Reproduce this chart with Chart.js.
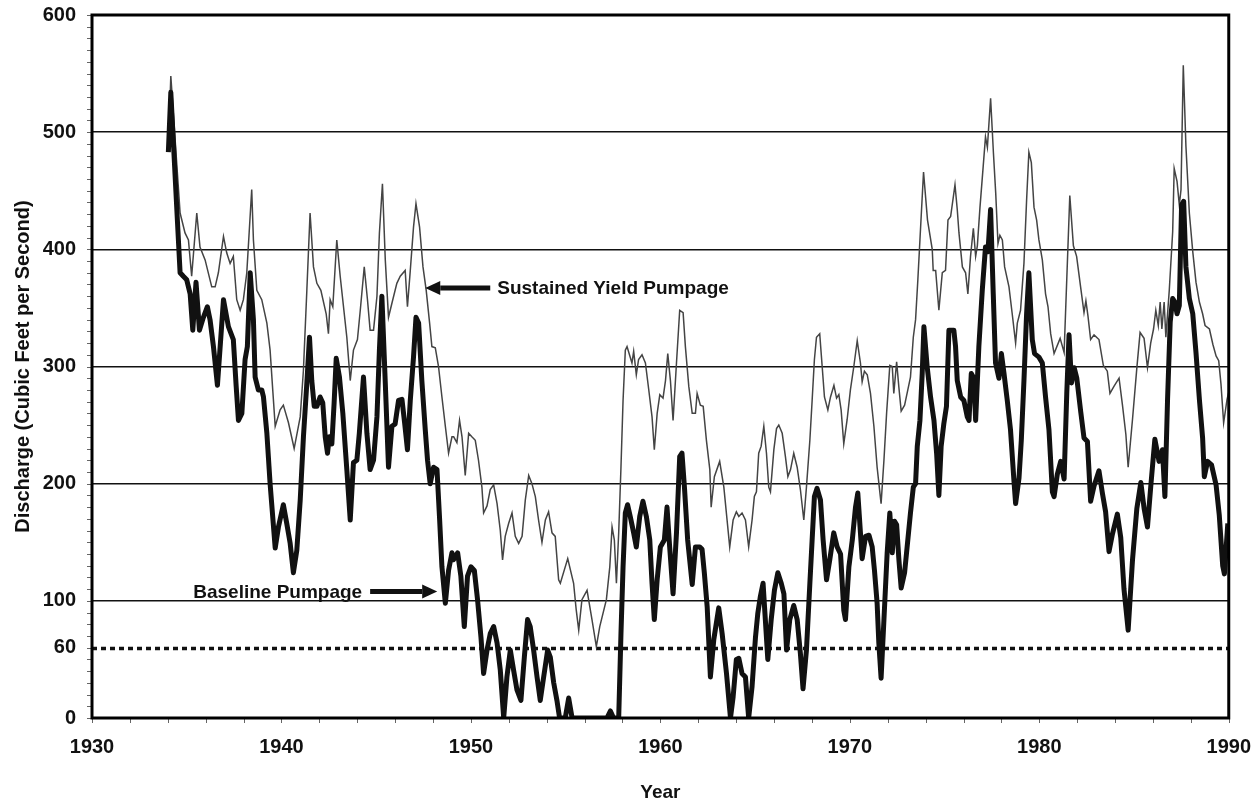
<!DOCTYPE html>
<html>
<head>
<meta charset="utf-8">
<script src="https://cdn.jsdelivr.net/npm/chart.js@4.4.1/dist/chart.umd.min.js"></script>
<style>
  html, body { margin: 0; padding: 0; background: #fff; }
  #wrap { width: 1260px; height: 800px; position: relative; }
</style>
</head>
<body>
<div id="wrap"><canvas id="discharge"></canvas></div>
<script>
// --- DATA ---
const sustainedYears = [
  1934.03,1934.16,1934.65,1934.91,1935.09,1935.26,1935.53,1935.70,1935.97,1936.32,
  1936.50,1936.67,1936.94,1937.11,1937.29,1937.46,1937.64,1937.82,1937.99,1938.17,
  1938.43,1938.52,1938.70,1938.96,1939.23,1939.40,1939.54,1939.67,1939.93,1940.10,
  1940.37,1940.67,1940.99,1941.16,1941.34,1941.51,1941.69,1941.87,1942.08,1942.36,
  1942.48,1942.57,1942.71,1942.92,1943.10,1943.45,1943.63,1943.80,1944.01,1944.16,
  1944.37,1944.54,1944.68,1944.86,1945.04,1945.17,1945.33,1945.48,1945.65,1945.83,
  1946.09,1946.27,1946.53,1946.65,1946.80,1946.97,1947.10,1947.29,1947.47,1947.64,
  1947.82,1947.94,1948.12,1948.29,1948.47,1948.65,1948.82,1949.00,1949.09,1949.26,
  1949.40,1949.53,1949.70,1949.88,1950.05,1950.23,1950.40,1950.58,1950.67,1950.85,
  1951.02,1951.20,1951.38,1951.55,1951.67,1951.81,1951.99,1952.17,1952.34,1952.52,
  1952.70,1952.87,1953.05,1953.22,1953.40,1953.57,1953.75,1953.93,1954.10,1954.28,
  1954.45,1954.63,1954.72,1955.11,1955.42,1955.56,1955.69,1955.86,1956.13,1956.39,
  1956.62,1956.80,1957.15,1957.33,1957.45,1957.57,1957.68,1957.80,1957.92,1958.03,
  1958.15,1958.24,1958.50,1958.59,1958.73,1958.85,1959.03,1959.21,1959.38,1959.56,
  1959.68,1959.83,1959.97,1960.14,1960.27,1960.39,1960.53,1960.67,1960.85,1961.02,
  1961.20,1961.32,1961.50,1961.68,1961.85,1961.94,1962.11,1962.26,1962.43,1962.61,
  1962.68,1962.85,1963.13,1963.35,1963.52,1963.66,1963.84,1964.01,1964.14,1964.31,
  1964.49,1964.66,1964.84,1964.96,1965.07,1965.19,1965.32,1965.46,1965.60,1965.72,
  1965.81,1965.99,1966.13,1966.25,1966.43,1966.60,1966.73,1966.87,1967.04,1967.22,
  1967.39,1967.57,1967.71,1967.89,1968.01,1968.13,1968.24,1968.41,1968.54,1968.66,
  1968.84,1968.98,1969.16,1969.30,1969.42,1969.54,1969.68,1969.86,1970.03,1970.21,
  1970.39,1970.56,1970.65,1970.77,1970.92,1971.09,1971.27,1971.44,1971.65,1971.80,
  1971.94,1972.11,1972.24,1972.32,1972.47,1972.59,1972.71,1972.89,1973.06,1973.20,
  1973.35,1973.47,1973.59,1973.70,1973.89,1974.10,1974.35,1974.40,1974.53,1974.70,
  1974.88,1975.05,1975.18,1975.32,1975.55,1975.67,1975.76,1975.94,1976.11,1976.23,
  1976.37,1976.52,1976.64,1976.73,1976.87,1977.04,1977.16,1977.26,1977.43,1977.58,
  1977.70,1977.82,1977.92,1978.05,1978.17,1978.40,1978.57,1978.75,1978.84,1979.01,
  1979.19,1979.33,1979.45,1979.58,1979.72,1979.86,1979.98,1980.16,1980.33,1980.46,
  1980.60,1980.78,1981.10,1981.31,1981.61,1981.80,1981.97,1982.18,1982.36,1982.46,
  1982.57,1982.71,1982.89,1983.15,1983.38,1983.59,1983.73,1983.94,1984.21,1984.39,
  1984.57,1984.69,1984.92,1985.15,1985.32,1985.53,1985.71,1985.88,1986.03,1986.15,
  1986.28,1986.38,1986.47,1986.59,1986.68,1986.86,1987.04,1987.12,1987.27,1987.39,
  1987.48,1987.60,1987.74,1987.92,1988.10,1988.27,1988.45,1988.62,1988.75,1988.98,
  1989.16,1989.33,1989.47,1989.59,1989.73,1989.91,1990.00
];
const sustainedCfs = [
  483,548,431,414,408,377,431,402,391,368,
  368,380,411,397,388,394,357,348,357,380,
  451,408,365,357,337,314,280,249,263,267,
  252,230,257,297,365,431,385,371,365,345,
  328,357,351,408,377,325,288,314,323,348,
  385,357,331,331,360,414,456,391,342,354,
  371,377,382,351,382,419,439,419,385,365,
  337,317,316,300,274,249,226,240,240,235,
  254,240,207,243,240,237,220,197,175,181,
  195,199,183,160,135,155,166,175,155,149,
  155,186,207,200,189,169,150,169,176,158,
  155,118,115,136,115,92,75,101,109,84,
  61,78,101,129,163,152,115,158,214,271,
  314,317,303,313,293,306,310,303,281,257,
  229,260,276,273,288,311,288,254,303,348,
  346,317,283,260,260,277,267,266,237,212,
  180,206,219,197,169,146,169,176,172,175,
  169,146,169,189,193,226,232,249,226,197,
  193,229,247,250,243,223,206,212,226,214,
  195,169,197,237,271,306,325,328,300,274,
  263,274,284,273,276,263,234,255,280,300,
  322,303,287,296,293,277,249,214,183,220,
  260,301,300,277,304,282,262,267,280,291,
  325,340,374,408,466,425,400,382,382,348,
  380,382,425,428,455,434,414,385,380,362,
  394,418,394,403,436,471,496,487,529,482,
  448,405,412,408,385,368,345,320,337,348,
  388,442,483,474,436,425,408,391,362,351,
  328,311,324,312,446,403,394,368,346,356,
  343,323,327,323,301,296,277,283,290,267,
  242,214,255,299,329,324,299,320,332,348,
  335,355,332,355,325,365,415,469,458,438,
  451,557,488,431,398,372,355,345,335,332,
  319,309,305,285,252,272,278
];

const baselineYears = [
  1934.03,1934.16,1934.65,1934.82,1935.00,1935.18,1935.32,1935.49,1935.67,1935.88,
  1936.09,1936.23,1936.41,1936.62,1936.94,1937.20,1937.46,1937.61,1937.73,1937.91,
  1938.08,1938.20,1938.35,1938.52,1938.61,1938.78,1938.96,1939.05,1939.23,1939.40,
  1939.67,1939.84,1940.10,1940.28,1940.46,1940.63,1940.81,1940.99,1941.16,1941.34,
  1941.48,1941.60,1941.73,1941.87,1942.04,1942.18,1942.31,1942.43,1942.53,1942.66,
  1942.78,1942.89,1943.06,1943.24,1943.45,1943.63,1943.80,1943.98,1944.11,1944.33,
  1944.51,1944.68,1944.86,1945.04,1945.17,1945.30,1945.48,1945.65,1945.83,1946.00,
  1946.18,1946.36,1946.50,1946.65,1946.80,1946.97,1947.10,1947.24,1947.41,1947.59,
  1947.71,1947.85,1948.03,1948.21,1948.34,1948.47,1948.65,1948.82,1949.00,1949.08,
  1949.30,1949.47,1949.65,1949.82,1950.00,1950.18,1950.35,1950.53,1950.67,1950.85,
  1951.02,1951.20,1951.38,1951.55,1951.73,1951.90,1952.08,1952.25,1952.43,1952.64,
  1952.82,1952.99,1953.13,1953.31,1953.49,1953.66,1953.84,1954.05,1954.19,1954.37,
  1954.54,1954.68,1954.98,1955.16,1955.34,1957.18,1957.36,1957.53,1957.80,1957.92,
  1958.03,1958.15,1958.27,1958.41,1958.59,1958.73,1958.91,1959.08,1959.26,1959.44,
  1959.56,1959.68,1959.83,1960.00,1960.21,1960.35,1960.49,1960.67,1960.85,1961.02,
  1961.14,1961.27,1961.44,1961.68,1961.85,1962.08,1962.20,1962.32,1962.47,1962.64,
  1962.82,1963.08,1963.26,1963.49,1963.70,1963.84,1964.01,1964.14,1964.31,1964.49,
  1964.66,1964.84,1965.02,1965.14,1965.28,1965.42,1965.54,1965.67,1965.85,1966.02,
  1966.20,1966.38,1966.52,1966.66,1966.83,1967.04,1967.22,1967.39,1967.53,1967.71,
  1967.89,1968.01,1968.13,1968.27,1968.45,1968.59,1968.77,1968.94,1969.15,1969.33,
  1969.51,1969.68,1969.77,1969.95,1970.13,1970.30,1970.42,1970.65,1970.83,1971.01,
  1971.18,1971.30,1971.44,1971.53,1971.65,1971.80,1971.97,1972.11,1972.24,1972.36,
  1972.47,1972.59,1972.71,1972.89,1973.06,1973.20,1973.35,1973.47,1973.56,1973.70,
  1973.82,1973.91,1974.08,1974.26,1974.44,1974.58,1974.70,1974.82,1974.96,1975.10,
  1975.23,1975.49,1975.58,1975.67,1975.85,1976.02,1976.20,1976.29,1976.41,1976.55,
  1976.64,1976.81,1976.99,1977.16,1977.29,1977.43,1977.57,1977.69,1977.87,1978.00,
  1978.13,1978.31,1978.48,1978.66,1978.75,1978.93,1979.05,1979.19,1979.33,1979.45,
  1979.63,1979.75,1979.98,1980.16,1980.33,1980.51,1980.69,1980.78,1980.95,1981.13,
  1981.31,1981.45,1981.57,1981.70,1981.84,1981.98,1982.19,1982.36,1982.54,1982.71,
  1982.89,1983.15,1983.33,1983.50,1983.68,1983.86,1984.12,1984.30,1984.47,1984.69,
  1984.92,1985.15,1985.36,1985.53,1985.71,1985.89,1986.10,1986.32,1986.50,1986.63,
  1986.77,1986.91,1987.04,1987.16,1987.27,1987.39,1987.51,1987.62,1987.74,1987.92,
  1988.10,1988.27,1988.45,1988.62,1988.71,1988.88,1989.09,1989.33,1989.50,1989.68,
  1989.77,1989.95
];
const baselineCfs = [
  483,534,380,377,374,362,331,372,331,342,
  351,340,317,284,357,334,323,283,254,260,
  306,317,380,340,291,280,280,274,243,200,
  145,163,182,166,149,124,143,186,240,286,
  325,288,266,266,274,269,240,226,240,234,
  269,307,291,260,212,169,218,220,243,291,
  243,212,220,257,314,360,286,214,249,251,
  271,272,252,229,271,308,342,337,288,246,
  220,200,214,212,172,129,98,126,141,135,
  141,121,78,121,129,126,101,69,38,58,
  72,78,64,41,0,35,58,41,24,15,
  52,84,78,58,35,15,35,58,52,30,
  15,0,0,17,0,0,6,0,0,72,
  129,175,182,172,158,146,172,185,172,152,
  115,84,118,146,152,180,146,106,158,223,
  226,197,152,114,146,146,144,124,95,35,
  67,94,72,38,0,18,50,51,38,35,
  0,27,69,89,104,115,84,50,84,109,
  124,115,106,58,84,96,84,55,25,58,
  115,152,189,196,186,152,118,135,158,146,
  140,92,84,129,152,180,192,136,155,156,
  146,126,98,64,34,84,141,175,141,168,
  165,135,111,124,152,175,197,200,232,254,
  294,334,300,274,254,226,190,232,251,266,
  331,331,317,288,274,271,257,254,294,290,
  254,317,365,402,398,434,362,303,290,311,
  295,271,246,203,183,205,237,288,345,380,
  323,311,308,303,274,246,193,189,208,219,
  204,277,327,286,299,290,261,239,236,185,
  198,211,192,176,142,157,174,154,110,75,
  135,179,201,179,163,199,238,219,229,189,
  272,338,358,355,345,352,438,441,385,358,
  345,312,272,239,206,219,216,199,173,130,
  123,166
];

const yTickValues = [0, 60, 100, 200, 300, 400, 500, 600];
const solidGridValues = [100, 200, 300, 400, 500];
const dottedLevel = 60;

// labels with arrows, in data units
const notes = [
  { text: 'Sustained Yield Pumpage', side: 'right', textYear: 1951.39, fromYear: 1951.02, toYear: 1947.59, cfs: 367 },
  { text: 'Baseline Pumpage', side: 'left', textYear: 1944.26, fromYear: 1944.68, toYear: 1948.22, cfs: 108 }
];

const FONT = "'Liberation Sans', Arial, sans-serif";

function toPoints(xs, ys) {
  return xs.map((x, i) => ({ x: x, y: ys[i] }));
}

// --- extra drawing: dotted 60 line, frame, minor ticks, notes ---
const decorPlugin = {
  id: 'decor',
  beforeDatasetsDraw(chart) {
    const { ctx, chartArea: a, scales: { y } } = chart;
    const py = Math.round(y.getPixelForValue(dottedLevel)) + 0.5;
    ctx.save();
    ctx.strokeStyle = '#111';
    ctx.lineWidth = 3.5;
    ctx.setLineDash([5, 4]);
    ctx.beginPath();
    ctx.moveTo(a.left, py);
    ctx.lineTo(a.right, py);
    ctx.stroke();
    ctx.restore();
  },
  afterDatasetsDraw(chart) {
    const { ctx, chartArea: a, scales: { x, y } } = chart;
    ctx.save();

    // minor ticks on the value axis
    ctx.strokeStyle = '#666';
    ctx.lineWidth = 1;
    for (let v = 0; v <= 600; v += 10) {
      const py = Math.round(y.getPixelForValue(v)) + 0.5;
      ctx.beginPath();
      ctx.moveTo(a.left - 5, py);
      ctx.lineTo(a.left, py);
      ctx.stroke();
    }
    // minor ticks on the year axis
    for (let yr = 1930; yr <= 1990; yr += 2) {
      const px = Math.round(x.getPixelForValue(yr)) + 0.5;
      ctx.beginPath();
      ctx.moveTo(px, a.bottom);
      ctx.lineTo(px, a.bottom + 5);
      ctx.stroke();
    }

    // frame
    ctx.strokeStyle = '#000';
    ctx.lineWidth = 3;
    ctx.strokeRect(a.left, a.top, a.right - a.left, a.bottom - a.top);

    // notes with arrows
    ctx.fillStyle = '#111';
    ctx.strokeStyle = '#111';
    ctx.font = 'bold 19px ' + FONT;
    ctx.textBaseline = 'middle';
    notes.forEach(n => {
      const py = y.getPixelForValue(n.cfs);
      ctx.textAlign = n.side === 'right' ? 'left' : 'right';
      ctx.fillText(n.text, x.getPixelForValue(n.textYear), py + 1);
      const x0 = x.getPixelForValue(n.fromYear);
      const x1 = x.getPixelForValue(n.toYear);
      const dir = Math.sign(x1 - x0);
      const head = 15;
      ctx.lineWidth = 5;
      ctx.beginPath();
      ctx.moveTo(x0, py);
      ctx.lineTo(x1 - dir * head, py);
      ctx.stroke();
      ctx.beginPath();
      ctx.moveTo(x1, py);
      ctx.lineTo(x1 - dir * head, py - 7);
      ctx.lineTo(x1 - dir * head, py + 7);
      ctx.closePath();
      ctx.fill();
    });
    ctx.restore();
  }
};

new Chart(document.getElementById('discharge'), {
  type: 'line',
  data: {
    datasets: [
      {
        label: 'Baseline Pumpage',
        data: toPoints(baselineYears, baselineCfs),
        borderColor: '#111',
        borderWidth: 5,
        pointRadius: 0,
        tension: 0,
        borderJoinStyle: 'round',
        fill: false
      },
      {
        label: 'Sustained Yield Pumpage',
        data: toPoints(sustainedYears, sustainedCfs),
        borderColor: '#444',
        borderWidth: 1.5,
        pointRadius: 0,
        tension: 0,
        fill: false
      }
    ]
  },
  options: {
    responsive: true,
    maintainAspectRatio: false,
    animation: false,
    devicePixelRatio: 1,
    layout: { padding: { top: 15, right: 26, left: 0, bottom: 0 } },
    plugins: {
      legend: { display: false },
      tooltip: { enabled: false }
    },
    scales: {
      x: {
        type: 'linear',
        min: 1930,
        max: 1990,
        afterFit: s => { s.height = 82; },
        grid: { display: false },
        border: { display: false },
        ticks: {
          stepSize: 10,
          padding: 9,
          color: '#111',
          font: { family: FONT, size: 20, weight: 'bold' },
          callback: v => String(v)
        },
        title: {
          display: true,
          text: 'Year',
          color: '#111',
          padding: { top: 0, bottom: -4 },
          font: { family: FONT, size: 19, weight: 'bold' }
        }
      },
      y: {
        type: 'linear',
        min: 0,
        max: 600,
        afterFit: s => { s.width = 92; s.paddingTop = 0; s.paddingBottom = 0; },
        afterBuildTicks: s => { s.ticks = yTickValues.map(v => ({ value: v })); },
        grid: {
          drawTicks: false,
          lineWidth: 1.6,
          color: c => (c.tick && solidGridValues.includes(c.tick.value)) ? '#111' : 'rgba(0,0,0,0)'
        },
        border: { display: false },
        ticks: {
          padding: 16,
          color: '#111',
          font: { family: FONT, size: 20, weight: 'bold' },
          callback: v => String(v)
        },
        title: {
          display: true,
          text: 'Discharge (Cubic Feet per Second)',
          color: '#111',
          padding: { top: 11, bottom: 0 },
          font: { family: FONT, size: 20, weight: 'bold' }
        }
      }
    }
  },
  plugins: [decorPlugin]
});
</script>
</body>
</html>
